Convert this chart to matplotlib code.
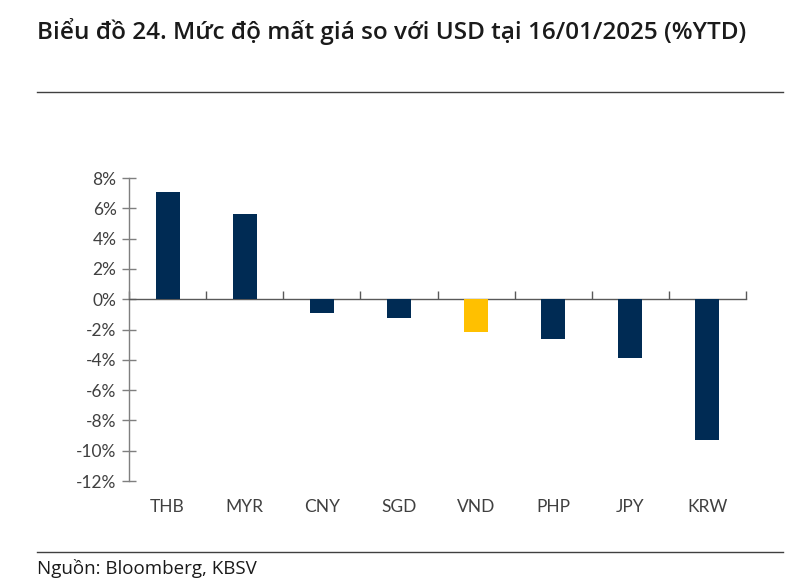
import matplotlib.pyplot as plt
import matplotlib.ticker as ticker
from matplotlib.lines import Line2D
import numpy as np

# Data
CURRENCIES = ['THB', 'MYR', 'CNY', 'SGD', 'VND', 'PHP', 'JPY', 'KRW']
VALUES = [7.1, 5.6, -0.9, -1.25, -2.15, -2.6, -3.85, -9.3]
HIGHLIGHT = 'VND'
Y_TICKS = [-12, -10, -8, -6, -4, -2, 0, 2, 4, 6, 8]

NAVY = '#002B54'
GOLD = '#FFC000'
AXIS_GREY = '#7F7F7F'
TEXT_GREY = '#404040'

TITLE = 'Biểu đồ 24. Mức độ mất giá so với USD tại 16/01/2025 (%YTD)'
SOURCE = 'Nguồn: Bloomberg, KBSV'

plt.rcParams['font.family'] = ['Lato', 'Open Sans', 'DejaVu Sans']

fig = plt.figure(figsize=(8, 5.78), dpi=100)
ax = fig.add_axes([0.16125, 0.1678, 0.77125, 0.5242])

x = np.arange(len(CURRENCIES))
colors = [GOLD if c == HIGHLIGHT else NAVY for c in CURRENCIES]
ax.bar(x, VALUES, width=0.31, color=colors, zorder=3)

ax.set_xlim(-0.5, len(CURRENCIES) - 0.5)
ax.set_ylim(Y_TICKS[0], Y_TICKS[-1])

# Spines
for side in ['top', 'right']:
    ax.spines[side].set_visible(False)
ax.spines['left'].set_color(AXIS_GREY)
ax.spines['left'].set_linewidth(1.0)
ax.spines['bottom'].set_position(('data', 0))
ax.spines['bottom'].set_color('#595959')
ax.spines['bottom'].set_linewidth(1.0)

# Y ticks crossing the axis
ax.set_yticks(Y_TICKS)
ax.yaxis.set_major_formatter(ticker.FuncFormatter(lambda v, p: f'{v:.0f}%'))
ax.tick_params(axis='y', direction='inout', length=10, width=1.0, color=AXIS_GREY,
               labelsize=12.5, labelcolor=TEXT_GREY, pad=4)

# X: separator ticks going up from the zero line, labels at the bottom
ax.set_xticks(np.arange(len(CURRENCIES) + 1) - 0.5)
ax.set_xticklabels([])
ax.tick_params(axis='x', direction='in', length=6, width=1.0, color='#595959')
for xi, name in zip(x, CURRENCIES):
    ax.text(xi, -0.06, name, transform=ax.get_xaxis_transform(), ha='center', va='top',
            fontsize=12.5, color=TEXT_GREY)

# Title, rules and source
fig.text(0.046, 0.945, TITLE, ha='left', va='center', fontsize=17.5, fontweight='semibold',
         color='#1a1a1a', family=['Open Sans', 'DejaVu Sans'])
fig.add_artist(Line2D([0.046, 0.979], [1 - 92 / 578, 1 - 92 / 578], color='#404040', lw=1.0))
fig.add_artist(Line2D([0.046, 0.979], [1 - 552 / 578, 1 - 552 / 578], color='#404040', lw=1.0))
fig.text(0.046, 1 - 568 / 578, SOURCE, ha='left', va='center', fontsize=13.5, color='#1a1a1a',
         family=['Open Sans', 'DejaVu Sans'])

fig.savefig('out.png', dpi=100)
